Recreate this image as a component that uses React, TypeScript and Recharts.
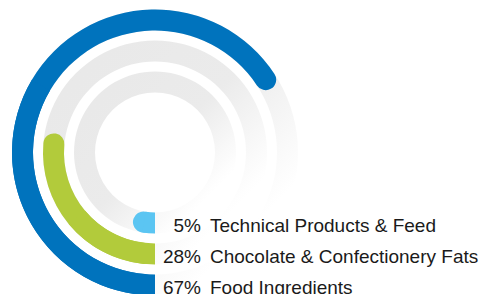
import { RadialBarChart, RadialBar, PolarAngleAxis, Sector, Cell } from "recharts";

const segments = ["Technical Products & Feed", "Chocolate & Confectionery Fats", "Food Ingredients"];
const shares = [5, 28, 67];

const colors = ["#5bc5f2", "#b2cb3b", "#0073bd"];

const data = segments.map((name, i) => ({ name, value: shares[i] }));

// flat start at 6 o'clock, rounded cap at the end, label to the right of the start
function RingBar(props: any) {
  const { cx, cy, innerRadius, outerRadius, startAngle, endAngle, fill, payload } = props;
  const half = (outerRadius - innerRadius) / 2;
  const mid = (startAngle + endAngle) / 2;
  const r = (innerRadius + outerRadius) / 2;
  return (
    <g>
      <Sector
        cx={cx}
        cy={cy}
        innerRadius={innerRadius}
        outerRadius={outerRadius}
        startAngle={startAngle}
        endAngle={endAngle}
        cornerRadius={half}
        forceCornerRadius
        fill={fill}
      />
      <Sector
        cx={cx}
        cy={cy}
        innerRadius={innerRadius}
        outerRadius={outerRadius}
        startAngle={startAngle}
        endAngle={mid}
        fill={fill}
      />
      <text
        x={cx + 46}
        y={cy + r}
        dy="0.45em"
        textAnchor="end"
        fontSize={19}
        fill="#1a1a1a"
      >
        {payload.value}%
      </text>
      <text x={cx + 55} y={cy + r} dy="0.45em" fontSize={19} fill="#1a1a1a">
        {payload.name}
      </text>
    </g>
  );
}

export default function App() {
  return (
    <div style={{ position: "absolute", left: 0, top: 0, fontFamily: "'Liberation Sans', Arial, sans-serif" }}>
      <RadialBarChart
        width={485}
        height={294}
        cx={155}
        cy={152.5}
        innerRadius={55}
        outerRadius={148}
        barSize={21}
        startAngle={270}
        endAngle={-90}
        data={data}
        margin={{ top: 0, right: 0, bottom: 0, left: 0 }}
      >
        <defs>
          <linearGradient id="track" x1="0" y1="0" x2="1" y2="1">
            <stop offset="0" stopColor="#e8e8e8" />
            <stop offset="0.5" stopColor="#ebebeb" />
            <stop offset="0.8" stopColor="#ffffff" />
          </linearGradient>
        </defs>
        <PolarAngleAxis type="number" domain={[0, 100]} tick={false} axisLine={false} />
        <RadialBar
          dataKey="value"
          background={{ fill: "url(#track)" }}
          shape={RingBar}
          isAnimationActive={false}
        >
          {data.map((d, i) => (
            <Cell key={d.name} fill={colors[i]} />
          ))}
        </RadialBar>
      </RadialBarChart>
    </div>
  );
}
